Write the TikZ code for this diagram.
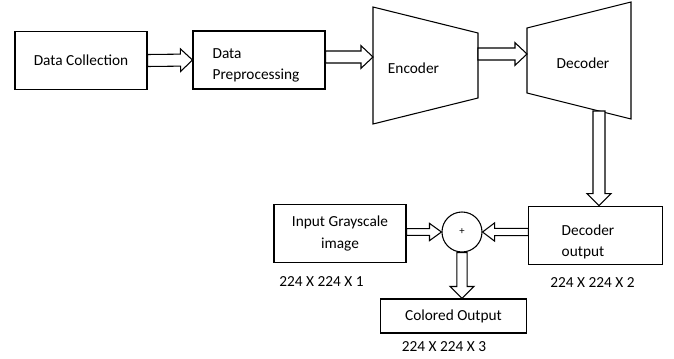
\documentclass[tikz,border=0pt]{standalone}
\usepackage{fontspec}
\setmainfont{Carlito}
\usetikzlibrary{calc}

% hollow block arrow: shaft half width, head half width, from, to
\newcommand{\blockarrow}[4]{%
  \draw[blockarr] ($(#3)!#1!90:(#4)$) -- ($(#4)!\headlen!(#3)!#1!90:(#4)$)
    -- ($(#4)!\headlen!(#3)!#2!90:(#4)$) -- (#4)
    -- ($(#4)!\headlen!(#3)!#2!-90:(#4)$) -- ($(#4)!\headlen!(#3)!#1!-90:(#4)$)
    -- ($(#3)!#1!-90:(#4)$) -- cycle;}

\begin{document}
\begin{tikzpicture}[
    x=0.75pt, y=-0.75pt,
    font=\fontsize{11.5}{16}\selectfont,
    every path/.style={line width=0.8pt},
    box/.style={draw, inner sep=0pt, minimum width=99pt, minimum height=44pt, align=center},
    blockarr/.style={draw, fill=white, line join=miter},
    dims/.style={inner sep=0pt}
  ]
  \def\headlen{9pt}
  \useasboundingbox (0,0) rectangle (674,358);

  % top row
  \node[box] (dc) at (81,60.5) {Data Collection};
  \node[box, minimum height=43.5pt] (dp) at (259,60) {};
  \node[align=left, inner sep=0pt] (dp-txt) at (256,65.5) {Data\\Preprocessing};

  % encoder / decoder
  \coordinate (enc-tl) at (373,7);
  \coordinate (enc-tr) at (478,33);
  \coordinate (enc-br) at (478,98);
  \coordinate (enc-bl) at (373,124);
  \draw (enc-tl) -- (enc-tr) -- (enc-br) -- (enc-bl) -- cycle;
  \node (enc) at (413.5,68) {Encoder};

  \coordinate (dec-tl) at (527,28);
  \coordinate (dec-tr) at (631,2);
  \coordinate (dec-br) at (631,119);
  \coordinate (dec-bl) at (527,93);
  \draw (dec-tl) -- (dec-tr) -- (dec-br) -- (dec-bl) -- cycle;
  \node (dec) at (583,63) {Decoder};

  \coordinate (enc-in) at (373,57);
  \coordinate (enc-out) at (478,54);
  \coordinate (dec-in) at (527,54);
  \coordinate (dec-out) at (599,111);

  % bottom row
  \node[box] (gi) at (340,233.5) {Input Grayscale\\image};
  \node[box, minimum width=100pt] (do) at (595.5,235.5) {};
  \node[align=left, inner sep=0pt] (do-txt) at (588,242) {Decoder\\output};
  \node[draw, circle, minimum size=30pt, inner sep=0pt, font=\footnotesize] (sum) at (462,232) {+};
  \node[box, minimum width=110pt, minimum height=25.5pt] (co) at (453.5,316) {Colored Output};

  \node[dims] (gi-dim) at (321.5,282) {224 X 224 X 1};
  \node[dims] (do-dim) at (592.5,283) {224 X 224 X 2};
  \node[dims] (co-dim) at (444,347) {224 X 224 X 3};

  % arrows
  \coordinate (gi-out) at (gi.east |- sum.west);
  \coordinate (do-out) at (do.west |- sum.east);
  \coordinate (co-in) at (sum.south |- co.north);
  \coordinate (dp-out) at (dp.east |- enc-in);
  \coordinate (do-in) at (dec-out |- do.north);

  \blockarrow{4.5pt}{8.5pt}{dc.east}{dp.west}
  \blockarrow{4.5pt}{8.5pt}{dp-out}{enc-in}
  \blockarrow{4.5pt}{8.5pt}{enc-out}{dec-in}
  \blockarrow{4.5pt}{9pt}{dec-out}{do-in}
  \blockarrow{2.5pt}{6.5pt}{gi-out}{sum.west}
  \blockarrow{2.7pt}{6.8pt}{do-out}{sum.east}
  \blockarrow{3.8pt}{9pt}{sum.south}{co-in}
\end{tikzpicture}
\end{document}
